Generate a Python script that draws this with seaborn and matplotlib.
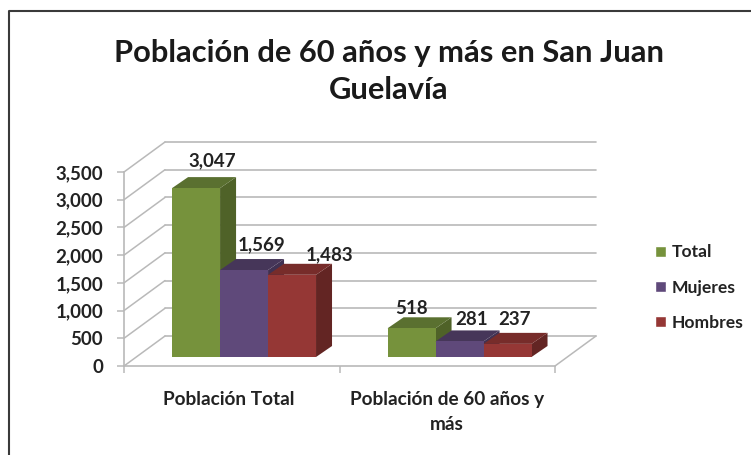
import matplotlib
matplotlib.use("Agg")
import matplotlib.pyplot as plt
from matplotlib.lines import Line2D
from matplotlib.patches import Polygon
import pandas as pd
import seaborn as sns

categories = ["Población Total", "Población de 60 años y\nmás"]
series = ["Total", "Mujeres", "Hombres"]
total = [3047, 518]
mujeres = [1569, 281]
hombres = [1483, 237]
y_ticks = [0, 500, 1000, 1500, 2000, 2500, 3000, 3500]
colors = ["#76923C", "#5F497A", "#953735"]
side_colors = ["#4F6228", "#403152", "#632523"]
top_colors = ["#5A7030", "#463659", "#772C2A"]
# label offsets from the bar's top centre, in pixels
label_dx = [[16, 18, 37], [0, 12, 7]]
label_dy = [[27, 25, 20], [20, 22, 24]]

df = pd.DataFrame({
    "cat": categories * 3,
    "serie": [s for s in series for _ in categories],
    "valor": total + mujeres + hombres,
})

sns.set_theme(style="white")
plt.rcParams["font.family"] = ["Lato", "DejaVu Sans"]
W, H = 751, 455
fig = plt.figure(figsize=(W / 100, H / 100), dpi=100)
L, R, B, T = 124, 555, 366, 172
ax = fig.add_axes([L / W, 1 - B / H, (R - L) / W, (B - T) / H])

sns.barplot(data=df, x="cat", y="valor", hue="serie", order=categories, hue_order=series,
            palette=colors, width=0.668, gap=0, saturation=1, ax=ax)
ax.set_xlim(-0.5, 1.5)
ax.set_ylim(0, 3500)
px = 2 / (R - L)
py = 3500 / (B - T)

wall_dx, wall_dy = 41 * px, 30 * py
off_x, off_y = 12.3 * px, 9 * py
depth_x, depth_y = 16 * px, 11 * py
grid_c = "#b9b9b9"

# back wall, side wall and floor
for t in y_ticks:
    ax.add_line(Line2D([-0.5 + wall_dx, 1.5 + wall_dx], [t + wall_dy, t + wall_dy],
                       color=grid_c, lw=1.2, clip_on=False, zorder=1))
    ax.add_line(Line2D([-0.5, -0.5 + wall_dx], [t, t + wall_dy],
                       color=grid_c, lw=1.1, clip_on=False, zorder=1))
ax.add_line(Line2D([1.5, 1.5 + wall_dx], [0, wall_dy], color=grid_c, lw=1.1,
                   clip_on=False, zorder=1))

# extruded bars
for i, cont in enumerate(ax.containers):
    for j, bar in enumerate(cont):
        bar.set_x(bar.get_x() + off_x)
        bar.set_y(off_y)
        bar.set_clip_on(False)
        bar.set_linewidth(0)
        bar.set_zorder(3 + i * 3)
        x0, w, h = bar.get_x(), bar.get_width(), bar.get_height()
        x1, y0, y1 = x0 + w, off_y, off_y + h
        ax.add_patch(Polygon([(x1, y0), (x1 + depth_x, y0 + depth_y),
                              (x1 + depth_x, y1 + depth_y), (x1, y1)],
                             fc=side_colors[i], ec="none", clip_on=False, zorder=2 + i * 3))
        ax.add_patch(Polygon([(x0, y1), (x1, y1), (x1 + depth_x, y1 + depth_y),
                              (x0 + depth_x, y1 + depth_y)],
                             fc=top_colors[i], ec="none", clip_on=False, zorder=2 + i * 3))
        ax.annotate(f"{int(h):,}", (x0 + w / 2, y1), xytext=(label_dx[j][i], label_dy[j][i]),
                    textcoords="offset pixels", ha="center", va="center",
                    fontsize=13.5, fontweight="bold", color="#222222", zorder=20,
                    annotation_clip=False)

for s in ["top", "right"]:
    ax.spines[s].set_visible(False)
for s in ["left", "bottom"]:
    ax.spines[s].set_color(grid_c)
    ax.spines[s].set_linewidth(1.2)

ax.set_xlabel("")
ax.set_ylabel("")
ax.set_yticks(y_ticks, [f"{t:,}" for t in y_ticks], fontsize=13.5, fontweight="bold", color="#222222")
ax.set_xticks([-0.5, 0.5, 1.5], ["", "", ""])
ax.set_xticks([-0.015, 1], categories, minor=True, fontsize=13.7, fontweight="bold", color="#222222")
ax.tick_params(axis="y", length=5, color=grid_c, width=1.1, pad=10, left=True)
ax.tick_params(axis="x", which="major", length=5, color=grid_c, width=1.1, bottom=True)
ax.tick_params(axis="x", which="minor", length=0, pad=18)
for lab in ax.get_xticklabels(minor=True):
    lab.set_linespacing(1.55)

handles, labels = ax.get_legend_handles_labels()
leg = ax.legend(handles, labels, loc="center left", frameon=False,
                bbox_to_anchor=(655 / W, 1 - 287.5 / H), bbox_transform=fig.transFigure,
                prop={"size": 12.6, "weight": "bold"}, handlelength=0.6, handleheight=0.6,
                handletextpad=0.35, labelspacing=1.1, borderpad=0, borderaxespad=0)
for t in leg.get_texts():
    t.set_color("#222222")

fig.text(389 / W, 1 - 53 / H, "Población de 60 años y más en San Juan", ha="center", va="center",
         fontsize=22.2, fontweight="bold", color="#1a1a1a")
fig.text(389 / W, 1 - 90 / H, "Guelavía", ha="center", va="center",
         fontsize=22.2, fontweight="bold", color="#1a1a1a")

# chart frame
fig.add_artist(Line2D([9 / W, 9 / W, 1], [0, 1 - 11 / H, 1 - 11 / H], color="#3a3a3a", lw=1.5,
                      transform=fig.transFigure))

fig.savefig("out.png", dpi=100, facecolor="white")
